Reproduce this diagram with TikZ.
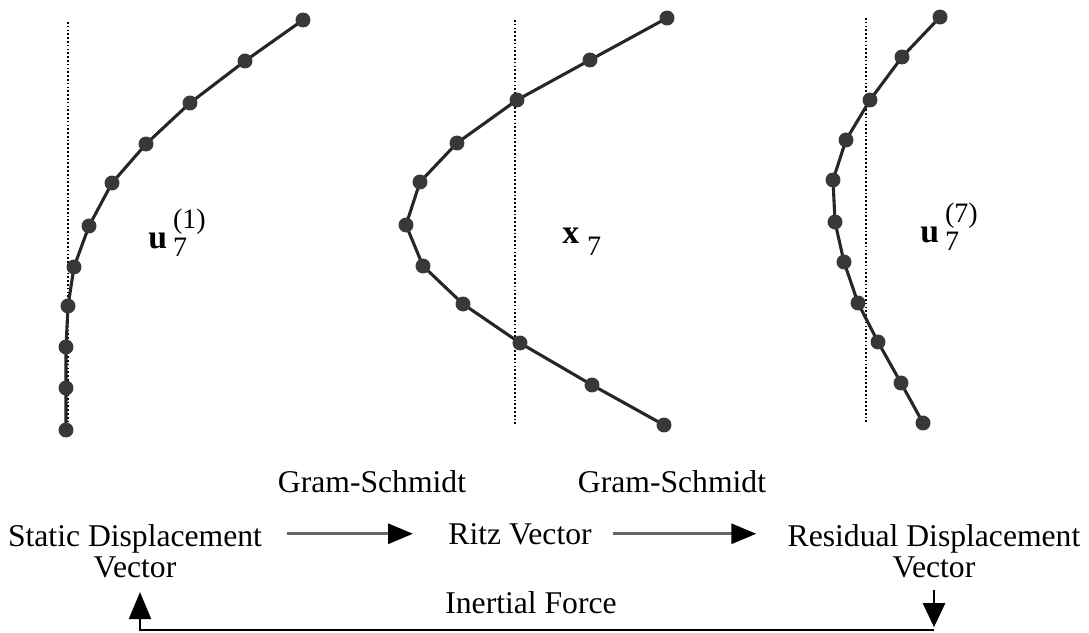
\documentclass[tikz,border=0pt]{standalone}
\usepackage{fontspec}
\setmainfont{Liberation Serif}
\usetikzlibrary{arrows.meta,positioning}

% bold mode vector with a lowered index and a raised iteration number
\newcommand{\modevec}[3]{\textbf{#1}\hspace{0.15cm}\makebox[0pt][l]{\raisebox{-0.22cm}{\fontsize{20}{20}\selectfont #2}}\raisebox{0.5cm}{\fontsize{20}{20}\selectfont #3}}

\begin{document}
\begin{tikzpicture}[
  x=0.025cm, y=-0.025cm,
  every node/.style={font=\fontsize{22.5}{22.5}\selectfont, inner sep=0pt},
  axisline/.style={line width=1.4pt, dash pattern=on 1.2pt off 1.5pt},
  curve/.style={line width=2.2pt, black!85},
  vec/.style={font=\fontsize{24}{24}\selectfont, anchor=base west},
  stage/.style={align=center, anchor=north},
  flow/.style={line width=2pt, black!60, -{Triangle[length=0.62cm, width=0.5cm, black]}},
  loop/.style={line width=1.8pt, black}
]
\useasboundingbox (0,0) rectangle (1089,632);

% mode shapes
\draw[axisline] (68,22) -- (68,430);
\draw[axisline] (515,20) -- (515,425);
\draw[axisline] (866,18) -- (866,423);
\draw[curve] plot[mark=*, mark size=4.2pt, mark options={fill=black!78, draw=black!78}] coordinates
  {(303,20) (245,61) (190,103) (146,144) (112,183) (89,226) (74,267) (68,306) (66,347) (66,388) (66,430)};
\draw[curve] plot[mark=*, mark size=4.2pt, mark options={fill=black!78, draw=black!78}] coordinates
  {(667,18) (590,60) (517,100) (457,143) (420,182) (406,225) (423,266) (463,304) (520,343) (592,385) (664,425)};
\draw[curve] plot[mark=*, mark size=4.2pt, mark options={fill=black!78, draw=black!78}] coordinates
  {(940,17) (902,57) (870,100) (846,140) (833,180) (835,222) (844,262) (858,303) (878,342) (901,383) (923,423)};

\node[vec] (ustatic) at (148,248) {\modevec{u}{7}{(1)}};
\node[vec] (xritz) at (562,243) {\textbf{x}\hspace{0.2cm}\raisebox{-0.3cm}{\fontsize{20}{20}\selectfont 7}};
\node[vec] (uresid) at (920,242) {\modevec{u}{7}{(7)}};

% algorithm steps
\node[stage] (static) at (135,524) {Static Displacement\\Vector};
\node[anchor=base] (ritz) at (520,544) {Ritz Vector};
\node[stage] (resid) at (934,524) {Residual Displacement\\Vector};
\node[anchor=base] (gs1) at (372,492) {Gram-Schmidt};
\node[anchor=base] (gs2) at (672,492) {Gram-Schmidt};
\node[anchor=base] (inertia) at (531,613) {Inertial Force};

\draw[flow] ([xshift=0.62cm]static.east |- ritz.center) -- ([xshift=-0.88cm]ritz.west);
\draw[flow] ([xshift=0.52cm]ritz.east) -- ([xshift=-0.78cm]resid.west |- ritz.center);

\coordinate (rtop) at (934,590);
\coordinate (rc) at (934,630);
\coordinate (lc) at (140,630);
\coordinate (ltip) at (140,592);
\draw[loop, -{Triangle[length=0.6cm, width=0.55cm]}] (rtop) -- ([yshift=0.07cm]rc);
\draw[loop, -{Triangle[length=0.68cm, width=0.55cm]}] (rc) -- (lc) -- (ltip);
\end{tikzpicture}
\end{document}
